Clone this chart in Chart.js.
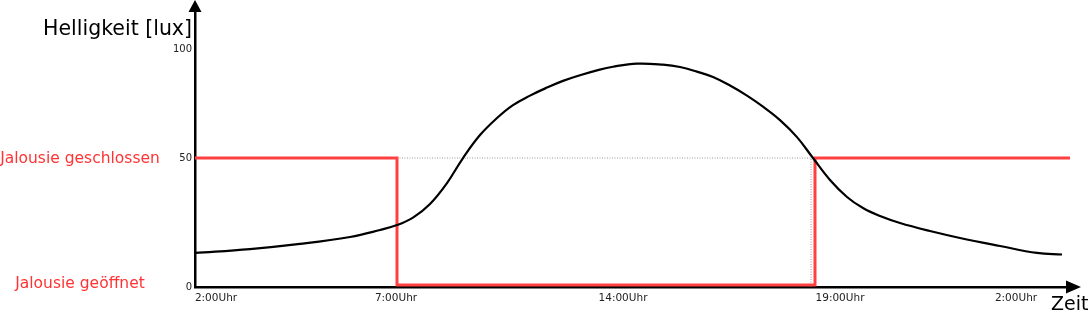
<!DOCTYPE html>
<html>
<head>
<meta charset="utf-8">
<script src="https://cdn.jsdelivr.net/npm/chart.js@4/dist/chart.umd.min.js"></script>
<style>
  html, body { margin: 0; padding: 0; background: #fff; }
  canvas { display: block; }
</style>
</head>
<body>
<canvas id="lightChart" width="1089" height="314"></canvas>
<script>
// schematic axis units (not proportional to the clock times shown)
const curveX = [0, 5.5, 10.5, 15.5, 18.5, 20.2, 21.8, 23.5, 25.2, 26.8, 28.5, 30.2, 31.8, 33.5, 35.2, 36.8, 38.5, 40.2, 41.8, 44.2, 46.8, 48.5, 50.2, 51.8, 53.5, 55.2, 56.8, 58.5, 60.2, 61.8, 63.5, 65.2, 66.8, 68.5, 70.5, 73.5, 76.5, 80.5, 84.2, 86.7];
const curveY = [13.2, 14.7, 16.7, 19.4, 22.1, 24.0, 26.9, 32.2, 40.3, 50.0, 58.9, 65.5, 70.5, 74.2, 77.3, 79.9, 82.1, 84.0, 85.4, 86.6, 86.2, 85.3, 83.5, 81.4, 78.1, 74.2, 69.9, 64.7, 58.1, 50.0, 41.5, 34.9, 30.6, 27.5, 24.8, 21.7, 19.0, 15.9, 13.2, 12.6];

const stepX = [0, 20.2, 20.2, 62.0, 62.0, 87.5];
const stepY = [50, 50, 0.8, 0.8, 50, 50];

const guideX = [20.2, 61.6, 61.6];
const guideY = [50, 50, 0];

const xTickValues = [2.1, 20.1, 42.8, 64.5, 82.1];
const xTickLabels = ['2:00Uhr', '7:00Uhr', '14:00Uhr', '19:00Uhr', '2:00Uhr'];
const yTickValues = [0, 50, 92];
const yTickLabels = ['0', '50', '100'];

const sideLabels = ['Jalousie geschlossen', 'Jalousie geöffnet'];
const sideLabelValues = [50, 0];

const yTitle = 'Helligkeit [lux]';
const xTitle = 'Zeit';

const toPoints = (xs, ys) => xs.map((x, i) => ({ x: x, y: ys[i] }));
const FONT = "'DejaVu Sans', Verdana, sans-serif";

// arrows, axis titles and the red state labels
const decorations = {
    id: 'decorations',
    afterDraw(chart) {
        const ctx = chart.ctx;
        const area = chart.chartArea;
        const yScale = chart.scales.y;
        ctx.save();
        ctx.fillStyle = '#000';

        // y arrow
        ctx.beginPath();
        ctx.moveTo(area.left, 0);
        ctx.lineTo(area.left - 6.5, area.top + 1);
        ctx.lineTo(area.left + 6.5, area.top + 1);
        ctx.closePath();
        ctx.fill();

        // x arrow
        ctx.beginPath();
        ctx.moveTo(area.right + 6, area.bottom);
        ctx.lineTo(area.right - 9, area.bottom - 6.5);
        ctx.lineTo(area.right - 9, area.bottom + 6.5);
        ctx.closePath();
        ctx.fill();

        ctx.fillStyle = '#000';
        ctx.textBaseline = 'middle';
        ctx.font = '20.5px ' + FONT;
        ctx.textAlign = 'right';
        ctx.fillText(yTitle, area.left - 3, 30);
        ctx.font = '19px ' + FONT;
        ctx.textAlign = 'left';
        ctx.fillText(xTitle, 1051, 305);

        ctx.fillStyle = '#ff3333';
        ctx.font = '15.5px ' + FONT;
        ctx.textAlign = 'center';
        sideLabels.forEach((txt, i) => {
            const y = yScale.getPixelForValue(sideLabelValues[i]);
            ctx.fillText(txt, 80, sideLabelValues[i] === 0 ? y - 3 : y + 1);
        });
        ctx.restore();
    }
};

new Chart(document.getElementById('lightChart'), {
    type: 'line',
    data: {
        datasets: [
            {
                label: 'Helligkeit',
                data: toPoints(curveX, curveY),
                borderColor: '#000',
                borderWidth: 2.2,
                pointRadius: 0,
                tension: 0.4,
                order: 1
            },
            {
                label: 'Jalousie',
                data: toPoints(stepX, stepY),
                borderColor: '#ff4040',
                borderWidth: 3,
                pointRadius: 0,
                tension: 0,
                order: 2
            },
            {
                label: 'Schwelle',
                data: toPoints(guideX, guideY),
                borderColor: '#9a9a9a',
                borderWidth: 1,
                borderDash: [1, 1.5],
                pointRadius: 0,
                tension: 0,
                order: 3
            }
        ]
    },
    options: {
        responsive: false,
        animation: false,
        layout: { padding: { top: 11, right: 14, left: 0, bottom: 0 } },
        plugins: {
            legend: { display: false },
            tooltip: { enabled: false }
        },
        scales: {
            x: {
                type: 'linear',
                min: 0,
                max: 88,
                grid: { display: false, drawTicks: false },
                border: { color: '#000', width: 2.5 },
                afterBuildTicks: s => { s.ticks = xTickValues.map(v => ({ value: v })); },
                afterFit: s => { s.height = 27; },
                ticks: {
                    padding: 5,
                    maxRotation: 0,
                    autoSkip: false,
                    color: '#222',
                    font: { family: FONT, size: 10.5 },
                    callback: (v, i) => xTickLabels[i]
                }
            },
            y: {
                type: 'linear',
                min: 0,
                max: 107,
                grid: { display: false, drawTicks: false },
                border: { color: '#000', width: 2.5 },
                afterBuildTicks: s => { s.ticks = yTickValues.map(v => ({ value: v })); },
                afterFit: s => { s.width = 195; },
                ticks: {
                    padding: 3,
                    autoSkip: false,
                    color: '#222',
                    font: { family: FONT, size: 10 },
                    callback: (v, i) => yTickLabels[i]
                }
            }
        }
    },
    plugins: [decorations]
});
</script>
</body>
</html>
